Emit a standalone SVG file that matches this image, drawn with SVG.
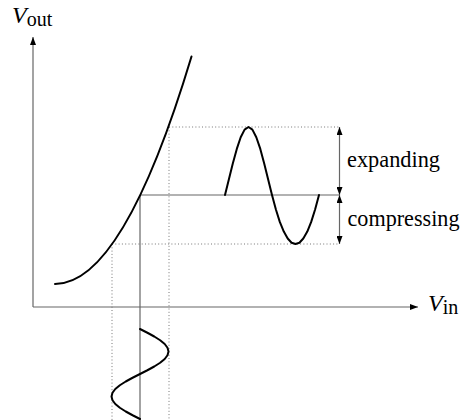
<svg xmlns="http://www.w3.org/2000/svg" width="462" height="420" viewBox="0 0 462 420">
<style>
.ax{stroke:#666;stroke-width:1.2;fill:none}
.dot{stroke:#777;stroke-width:1;stroke-dasharray:1 2.3;fill:none}
.wave{stroke:#000;stroke-width:2;fill:none;stroke-linejoin:round;stroke-linecap:round}
.t{font-family:"Liberation Serif","Times New Roman",serif;fill:#000}
</style>
<defs>
<marker id="ah" viewBox="0 0 8 6" markerWidth="8" markerHeight="6" refX="8" refY="3" orient="auto-start-reverse" markerUnits="userSpaceOnUse">
<path d="M0,0 L8,3 L0,6 Z" fill="#000"/>
</marker>
</defs>
<rect width="462" height="420" fill="#fff"/>
<g id="guides">
<line class="dot" x1="169" y1="127" x2="339" y2="127"/>
<line class="dot" x1="112" y1="244" x2="339" y2="244"/>
<line class="dot" x1="169" y1="127" x2="169" y2="420"/>
<line class="dot" x1="112" y1="244" x2="112" y2="420"/>
</g>
<g id="connectors">
<line class="ax" x1="33" y1="307" x2="33" y2="37" marker-end="url(#ah)"/>
<line class="ax" x1="33" y1="307" x2="418" y2="307" marker-end="url(#ah)"/>
<line class="ax" x1="140" y1="195" x2="339.5" y2="195"/>
<line class="ax" x1="140" y1="195" x2="140" y2="420"/>
<line class="ax" x1="339.5" y1="127" x2="339.5" y2="195" marker-start="url(#ah)" marker-end="url(#ah)"/>
<line class="ax" x1="339.5" y1="195" x2="339.5" y2="244" marker-start="url(#ah)" marker-end="url(#ah)"/>
</g>
<g id="transfer-curve">
<path class="wave" d="M55,284 Q123,284 191.5,56.5"/>
</g>
<g id="output-wave">
<polyline class="wave" points="225,195 228.9,179.2 232.8,163.4 236.8,148.9 240.7,137.2 244.6,129.6 248.5,127 252.4,129.6 256.3,137.2 260.3,148.9 264.2,163.4 268.1,179.2 272,195 275.9,209.5 279.8,221.9 283.8,231.6 287.7,238.5 291.6,242.7 295.5,244 299.4,242.7 303.3,238.5 307.3,231.6 311.2,221.9 315.1,209.5 319,195"/>
</g>
<g id="input-wave">
<polyline class="wave" points="140,329 147.4,332.75 154.25,336.5 160.15,340.25 164.7,344 167.5,347.75 168.5,351.5 167.5,355.25 164.7,359 160.15,362.75 154.25,366.5 147.4,370.25 140,374 132.6,377.75 125.75,381.5 119.85,385.25 115.3,389 112.5,392.75 111.5,396.5 112.5,400.25 115.3,404 119.85,407.75 125.75,411.5 132.6,415.25 140,419"/>
</g>
<g id="label-vout">
<text class="t" x="12" y="23" font-size="24"><tspan font-style="italic">V</tspan><tspan font-size="20" dy="3">out</tspan></text>
</g>
<g id="label-vin">
<text class="t" x="428" y="311" font-size="24"><tspan font-style="italic">V</tspan><tspan font-size="20" dy="3">in</tspan></text>
</g>
<g id="label-expanding">
<text class="t" x="347" y="167" font-size="22.5" textLength="93" lengthAdjust="spacingAndGlyphs">expanding</text>
</g>
<g id="label-compressing">
<text class="t" x="347.5" y="226" font-size="22.5" textLength="112" lengthAdjust="spacingAndGlyphs">compressing</text>
</g>
</svg>
